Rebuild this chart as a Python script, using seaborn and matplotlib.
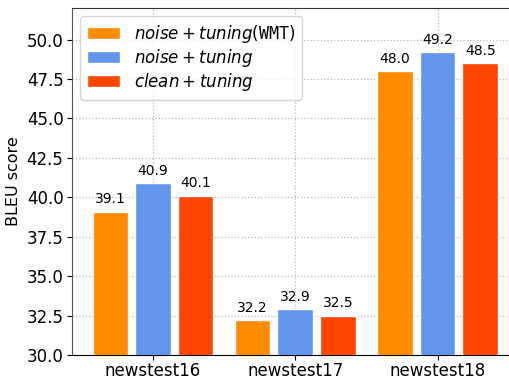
import pandas as pd
import seaborn as sns
import matplotlib.pyplot as plt

# data
testsets = ["newstest16", "newstest17", "newstest18"]
systems = [r"$noise+tuning$(WMT)", r"$noise+tuning$", r"$clean+tuning$"]
wmt_scores = [39.1, 32.2, 48.0]
noise_scores = [40.9, 32.9, 49.2]
clean_scores = [40.1, 32.5, 48.5]
colors = ["#FF8C00", "#6495ED", "#FF4500"]

df = pd.DataFrame({
    "testset": testsets * 3,
    "system": [systems[0]] * 3 + [systems[1]] * 3 + [systems[2]] * 3,
    "bleu": wmt_scores + noise_scores + clean_scores,
})

sns.set_style("white")
plt.rcParams["font.family"] = ["DejaVu Sans"]
plt.rcParams["mathtext.fontset"] = "dejavusans"
plt.rcParams["text.color"] = "black"
plt.rcParams["axes.labelcolor"] = "black"
plt.rcParams["xtick.color"] = "black"
plt.rcParams["ytick.color"] = "black"

fig = plt.figure(figsize=(5.1, 3.79), dpi=100)
ax = fig.add_axes([0.141, 0.063, 0.862, 0.916])

sns.barplot(data=df, x="testset", y="bleu", hue="system", palette=colors,
            width=0.9, gap=0.167, ax=ax, saturation=1, zorder=3)

for cont in ax.containers:
    ax.bar_label(cont, fmt="%.1f", padding=4, fontsize=10)

ax.set_ylim(30, 52)
ax.set_xlim(-0.57, 2.52)
ax.set_yticks([30, 32.5, 35, 37.5, 40, 42.5, 45, 47.5, 50])
ax.set_yticklabels(["30.0", "32.5", "35.0", "37.5", "40.0", "42.5", "45.0", "47.5", "50.0"])
ax.tick_params(axis="both", labelsize=12, length=3.5, left=True, bottom=True)
ax.tick_params(axis="x", pad=1.5)
ax.tick_params(axis="y", pad=2.5)
ax.set_xlabel("")
ax.set_ylabel("BLEU score", fontsize=11.5, labelpad=4)
ax.grid(True, linestyle=":", color="#bbbbbb", linewidth=0.9, zorder=0)
ax.set_axisbelow(True)

ax.spines["right"].set_visible(False)
ax.spines["left"].set_color("#555555")
ax.spines["top"].set_color("#333333")
ax.spines["bottom"].set_color("black")

leg = ax.legend(loc="upper left", fontsize=12, frameon=True, handlelength=2.0,
                labelspacing=0.12, borderpad=0.4)
leg.get_frame().set_edgecolor("#cccccc")
leg.set_title(None)
for t in leg.get_texts():
    t.set_text(t.get_text().replace("(WMT)", r"($\mathtt{WMT}$)"))

fig.savefig("out.png", dpi=100)
